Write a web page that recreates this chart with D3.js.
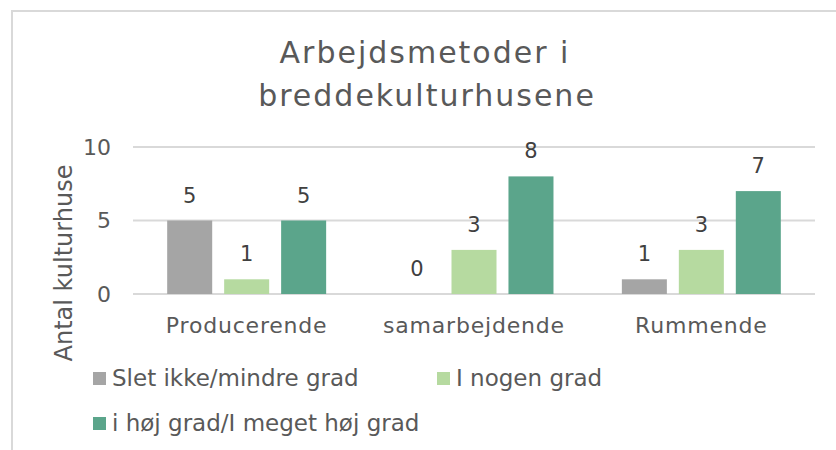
<!DOCTYPE html>
<html>
<head>
<meta charset="utf-8">
<script src="https://cdn.jsdelivr.net/npm/d3@7"></script>
<style>
  body { margin: 0; background: #fff; }
  text { font-family: "DejaVu Sans", sans-serif; }
</style>
</head>
<body>
<svg id="svg" width="836" height="450"></svg>
<script>
var categories = ["Producerende", "samarbejdende", "Rummende"];
var seriesNames = ["Slet ikke/mindre grad", "I nogen grad", "i høj grad/I meget høj grad"];
var slet = [5, 0, 1];
var nogen = [1, 3, 3];
var hoej = [5, 8, 7];
var yTicks = [0, 5, 10];
var colorList = ["#a5a5a5", "#b6daa0", "#5ba58b"];

var allSeries = [slet, nogen, hoej];

var svg = d3.select("#svg");
var g = svg.append("g");

// frame
g.append("path")
    .attr("d", "M12,450 V11 H836")
    .attr("fill", "none")
    .attr("stroke", "#d9d9d9")
    .attr("stroke-width", 2);

// title
var title = g.append("text")
    .attr("text-anchor", "middle")
    .style("font-size", "30px")
    .style("letter-spacing", "2px")
    .style("fill", "#595959");
title.append("tspan").attr("x", 425).attr("y", 63).text("Arbejdsmetoder i");
title.append("tspan").attr("x", 427).attr("y", 106).text("breddekulturhusene");

var x0 = d3.scaleBand()
    .domain(categories)
    .range([133, 815]);

var x1 = d3.scaleBand()
    .domain(d3.range(3))
    .range([0, x0.bandwidth()])
    .paddingInner(0.21)
    .paddingOuter(0.6);

var y = d3.scaleLinear()
    .domain([0, 10])
    .range([294, 147]);

// gridlines
g.selectAll(".grid")
    .data(yTicks)
    .enter()
    .append("line")
    .attr("x1", 133)
    .attr("x2", 815)
    .attr("y1", function(d) { return y(d); })
    .attr("y2", function(d) { return y(d); })
    .attr("stroke", "#d9d9d9")
    .attr("stroke-width", 2);

// y axis labels
g.selectAll(".ytick")
    .data(yTicks)
    .enter()
    .append("text")
    .attr("x", 111)
    .attr("y", function(d) { return y(d); })
    .attr("dy", "0.36em")
    .attr("text-anchor", "end")
    .style("font-size", "22px")
    .style("fill", "#595959")
    .text(function(d) { return d; });

// y axis title
g.append("text")
    .attr("transform", "translate(72,263) rotate(-90)")
    .attr("text-anchor", "middle")
    .style("font-size", "24px")
    .style("fill", "#595959")
    .text("Antal kulturhuse");

// bars
for (let s = 0; s < 3; s++) {
    var grp = g.append("g");
    grp.selectAll("rect")
        .data(allSeries[s])
        .enter()
        .append("rect")
        .attr("x", function(d, i) { return x0(categories[i]) + x1(s); })
        .attr("y", function(d) { return y(d); })
        .attr("width", x1.bandwidth())
        .attr("height", function(d) { return y(0) - y(d); })
        .attr("fill", colorList[s]);
    grp.selectAll("text")
        .data(allSeries[s])
        .enter()
        .append("text")
        .attr("x", function(d, i) { return x0(categories[i]) + x1(s) + x1.bandwidth() / 2; })
        .attr("y", function(d) { return y(d) - 18; })
        .attr("text-anchor", "middle")
        .style("font-size", "21px")
        .style("fill", "#404040")
        .text(function(d) { return d; });
}

// category labels
g.selectAll(".cat")
    .data(categories)
    .enter()
    .append("text")
    .attr("x", function(d) { return x0(d) + x0.bandwidth() / 2; })
    .attr("y", 333)
    .attr("text-anchor", "middle")
    .style("font-size", "22px")
    .style("letter-spacing", "0.8px")
    .style("fill", "#595959")
    .text(function(d) { return d; });

// legend
var legendPos = [[93, 378], [437, 378], [93, 423]];
for (let s = 0; s < 3; s++) {
    g.append("rect")
        .attr("x", legendPos[s][0])
        .attr("y", legendPos[s][1] - 6)
        .attr("width", 13)
        .attr("height", 13)
        .attr("fill", colorList[s]);
    g.append("text")
        .attr("x", legendPos[s][0] + 19)
        .attr("y", legendPos[s][1])
        .attr("dy", "0.36em")
        .style("font-size", "23px")
        .style("fill", "#595959")
        .text(seriesNames[s]);
}
</script>
</body>
</html>
